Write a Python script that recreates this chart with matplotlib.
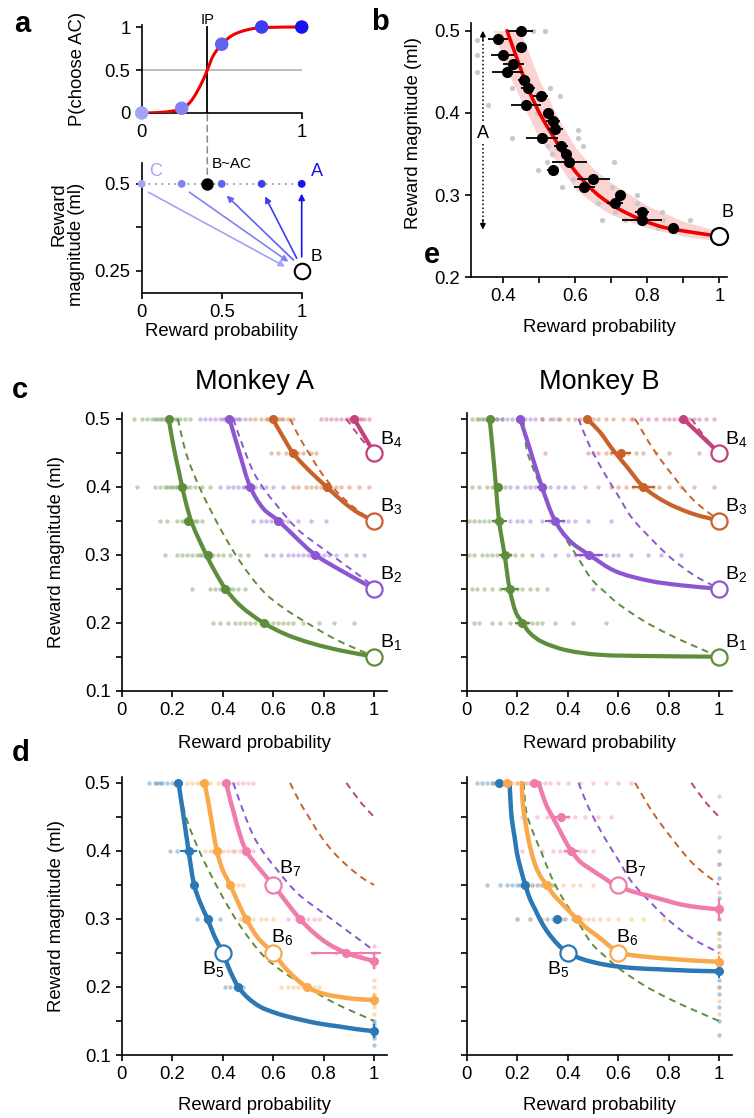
import math
import matplotlib
matplotlib.use('Agg')
import matplotlib.pyplot as plt
from matplotlib.patches import ConnectionPatch, PathPatch
from matplotlib.path import Path

plt.rcParams['font.family'] = ['Liberation Sans', 'DejaVu Sans']
plt.rcParams['mathtext.default'] = 'regular'
plt.rcParams['axes.linewidth'] = 1.2
for a in ('xtick', 'ytick'):
    plt.rcParams[a + '.major.width'] = 1.2
    plt.rcParams[a + '.major.size'] = 4.5
    plt.rcParams[a + '.labelsize'] = 13.3
    plt.rcParams[a + '.direction'] = 'out'

FS = 13.3

# ---------------- Panel a data ----------------
A_P = [0, 0.25, 0.5, 0.75, 1.0]
A_CHOICE = [0.0, 0.055, 0.8, 1.0, 1.0]
A_COLORS = ['#a3a3f7', '#8282f2', '#6262f0', '#3e3eee', '#1616ec']
SIG_P = [0, 0.1, 0.2, 0.25, 0.3, 0.344, 0.385, 0.41, 0.448, 0.5, 0.573, 0.677, 0.78, 1.0]
SIG_Y = [0, 0.005, 0.025, 0.05, 0.12, 0.24, 0.39, 0.5, 0.67, 0.8, 0.91, 0.975, 0.995, 1.0]
IP = 0.41
A_MAG = 0.5
B_REF = (1.0, 0.25)

# ---------------- Panel b data ----------------
BP = [0.448, 0.384, 0.448, 0.398, 0.428, 0.411, 0.456, 0.469, 0.504, 0.462, 0.525, 0.537, 0.544,
      0.508, 0.560, 0.574, 0.583, 0.537, 0.650, 0.625, 0.724, 0.710, 0.784, 0.784, 0.872]
BM = [0.50, 0.49, 0.48, 0.47, 0.46, 0.45, 0.44, 0.43, 0.42, 0.41, 0.40, 0.39, 0.38,
      0.37, 0.36, 0.35, 0.34, 0.33, 0.32, 0.31, 0.30, 0.29, 0.28, 0.27, 0.26]
BXERR = [0.035, 0.028, 0.014, 0.032, 0.028, 0.042, 0.016, 0.019, 0.021, 0.042, 0.014, 0.019, 0.021,
         0.044, 0.019, 0.014, 0.049, 0.016, 0.047, 0.03, 0.014, 0.023, 0.019, 0.056, 0.012]
GRAY_P = [0.326, 0.328, 0.328, 0.483, 0.516, 0.423, 0.469, 0.53, 0.557, 0.358, 0.423, 0.493, 0.525,
          0.608, 0.608, 0.622, 0.534, 0.497, 0.52, 0.562, 0.594, 0.706, 0.701, 0.664, 0.715, 0.77,
          0.71, 0.77, 0.84, 0.673, 0.83, 0.918, 0.844, 0.738]
GRAY_M = [0.489, 0.47, 0.45, 0.5, 0.5, 0.43, 0.44, 0.43, 0.42, 0.41, 0.37, 0.4, 0.36,
          0.379, 0.37, 0.36, 0.35, 0.33, 0.34, 0.31, 0.32, 0.34, 0.31, 0.29, 0.29, 0.30,
          0.28, 0.29, 0.28, 0.27, 0.26, 0.27, 0.27, 0.27]
FIT_P = [0.41, 0.446, 0.474, 0.506, 0.539, 0.576, 0.613, 0.669, 0.743, 0.835, 0.92, 1.0]
FIT_M = [0.5, 0.456, 0.424, 0.395, 0.371, 0.343, 0.322, 0.298, 0.278, 0.262, 0.255, 0.25]
BAND_P = [0.372, 0.41, 0.446, 0.5, 0.55, 0.6, 0.65, 0.7, 0.8, 0.9, 1.0]
BAND_LO = [0.5, 0.452, 0.418, 0.368, 0.34, 0.307, 0.29, 0.276, 0.26, 0.25, 0.244]
BAND_HI = [0.5, 0.5, 0.5, 0.44, 0.395, 0.358, 0.332, 0.315, 0.287, 0.268, 0.256]

# ---------------- Panels c / d data ----------------
GREEN = '#5e8d3b'
PURPLE = '#8b56cf'
BROWN = '#c9622a'
MAGENTA = '#c4427c'
BLUE = '#2b78b5'
LORANGE = '#f9a94b'
PINK = '#f07cac'

# Monkey A solid curves (panel c)
CA_GREEN_P = [0.186, 0.205, 0.228, 0.252, 0.28, 0.335, 0.37, 0.411, 0.47, 0.561, 0.65, 0.75, 0.87, 1.0]
CA_GREEN_M = [0.5, 0.46, 0.42, 0.38, 0.345, 0.3, 0.275, 0.25, 0.225, 0.2, 0.183, 0.17, 0.159, 0.15]
CA_PURPLE_P = [0.427, 0.469, 0.509, 0.561, 0.621, 0.694, 0.766, 0.878, 1.0]
CA_PURPLE_M = [0.5, 0.447, 0.4, 0.368, 0.35, 0.324, 0.3, 0.275, 0.25]
CA_BROWN_P = [0.598, 0.64, 0.68, 0.745, 0.812, 0.88, 0.94, 1.0]
CA_BROWN_M = [0.5, 0.473, 0.449, 0.423, 0.4, 0.377, 0.361, 0.35]
CA_MAG_P = [0.921, 1.0]
CA_MAG_M = [0.5, 0.45]
# Monkey B solid curves (panel c)
CB_GREEN_P = [0.091, 0.104, 0.116, 0.128, 0.15, 0.17, 0.195, 0.221, 0.25, 0.298, 0.39, 0.52, 0.72, 1.0]
CB_GREEN_M = [0.5, 0.45, 0.4, 0.35, 0.3, 0.25, 0.215, 0.2, 0.185, 0.172, 0.16, 0.153, 0.151, 0.15]
CB_PURPLE_P = [0.212, 0.245, 0.298, 0.35, 0.41, 0.485, 0.588, 0.72, 0.851, 1.0]
CB_PURPLE_M = [0.5, 0.462, 0.4, 0.35, 0.32, 0.3, 0.276, 0.262, 0.255, 0.25]
CB_BROWN_P = [0.476, 0.527, 0.574, 0.64, 0.70, 0.785, 0.89, 1.0]
CB_BROWN_M = [0.5, 0.481, 0.457, 0.427, 0.4, 0.378, 0.361, 0.35]
CB_MAG_P = [0.858, 1.0]
CB_MAG_M = [0.5, 0.45]

# Dashed reference curves
DA_GREEN_P = [0.222, 0.258, 0.311, 0.39, 0.469, 0.561, 0.64, 0.72, 0.84, 1.0]
DA_GREEN_M = [0.5, 0.446, 0.397, 0.339, 0.29, 0.246, 0.222, 0.203, 0.177, 0.15]
DA_PURPLE_P = [0.442, 0.48, 0.522, 0.565, 0.614, 0.66, 0.707, 0.76, 0.812, 0.885, 0.958, 1.0]
DA_PURPLE_M = [0.5, 0.46, 0.422, 0.396, 0.373, 0.352, 0.334, 0.319, 0.305, 0.285, 0.265, 0.253]
DA_BROWN_P = [0.667, 0.705, 0.746, 0.79, 0.839, 0.9, 0.958, 1.0]
DA_BROWN_M = [0.5, 0.472, 0.447, 0.421, 0.398, 0.376, 0.359, 0.35]
DA_MAG_P = [0.89, 0.95, 1.0]
DA_MAG_M = [0.5, 0.47, 0.45]
DB_GREEN_P = [0.225, 0.237, 0.26, 0.297, 0.335, 0.376, 0.435, 0.495, 0.548, 0.6, 0.7, 0.8, 0.9, 1.0]
DB_GREEN_M = [0.5, 0.456, 0.43, 0.397, 0.362, 0.333, 0.299, 0.264, 0.245, 0.228, 0.203, 0.183, 0.166, 0.15]
DB_PURPLE_P = [0.443, 0.48, 0.521, 0.56, 0.6, 0.653, 0.732, 0.81, 0.9, 1.0]
DB_PURPLE_M = [0.5, 0.466, 0.436, 0.411, 0.387, 0.355, 0.323, 0.295, 0.27, 0.25]
DB_BROWN_P = [0.667, 0.74, 0.82, 0.90, 1.0]
DB_BROWN_M = [0.5, 0.455, 0.415, 0.38, 0.35]
DB_MAG_P = [0.89, 0.95, 1.0]
DB_MAG_M = [0.5, 0.47, 0.45]

# Mean indifference points (panel c): p, m, xerr
MA_GREEN = ([0.186, 0.24, 0.262, 0.34, 0.411, 0.562], [0.5, 0.4, 0.35, 0.3, 0.25, 0.2], [0.008, 0.015, 0.01, 0.012, 0.012, 0.012])
MA_PURPLE = ([0.427, 0.509, 0.621, 0.766], [0.5, 0.4, 0.35, 0.3], [0.008, 0.02, 0.012, 0.012])
MA_BROWN = ([0.598, 0.68, 0.812], [0.5, 0.45, 0.4], [0.008, 0.01, 0.012])
MA_MAG = ([0.921], [0.5], [0.008])
MB_GREEN = ([0.091, 0.123, 0.129, 0.153, 0.17, 0.221], [0.5, 0.4, 0.35, 0.3, 0.25, 0.2], [0.008, 0.015, 0.03, 0.026, 0.036, 0.03])
MB_PURPLE = ([0.212, 0.298, 0.35, 0.485], [0.5, 0.4, 0.35, 0.3], [0.008, 0.02, 0.04, 0.056])
MB_BROWN = ([0.476, 0.611, 0.70], [0.5, 0.45, 0.4], [0.008, 0.04, 0.046])
MB_MAG = ([0.858], [0.5], [0.008])

# Single-session dots (panel c): level -> probabilities
DOTS_CA_GREEN = {0.5: [0.05, 0.08, 0.10, 0.12, 0.13, 0.14, 0.15, 0.16, 0.17, 0.18, 0.19, 0.2, 0.21, 0.22, 0.23, 0.25, 0.27],
                 0.4: [0.06, 0.13, 0.15, 0.17, 0.18, 0.19, 0.2, 0.21, 0.22, 0.23, 0.24, 0.25, 0.26, 0.27, 0.29, 0.32, 0.35],
                 0.35: [0.15, 0.18, 0.22, 0.24, 0.25, 0.26, 0.27, 0.28, 0.29, 0.3, 0.32],
                 0.3: [0.17, 0.22, 0.24, 0.26, 0.28, 0.3, 0.31, 0.32, 0.33, 0.34, 0.35, 0.36, 0.38, 0.4, 0.43, 0.47, 0.5],
                 0.25: [0.28, 0.35, 0.37, 0.39, 0.4, 0.41, 0.42, 0.43, 0.44, 0.46, 0.49],
                 0.2: [0.36, 0.39, 0.42, 0.45, 0.47, 0.49, 0.51, 0.53, 0.55, 0.56, 0.57, 0.58, 0.6, 0.62, 0.64, 0.66, 0.68, 0.72, 0.78, 0.84, 0.92]}
DOTS_CA_PURPLE = {0.5: [0.31, 0.33, 0.35, 0.37, 0.39, 0.40, 0.41, 0.42, 0.43, 0.44, 0.45, 0.46, 0.47, 0.49],
                  0.4: [0.39, 0.42, 0.44, 0.46, 0.48, 0.49, 0.5, 0.51, 0.52, 0.53, 0.55, 0.57, 0.6, 0.64],
                  0.35: [0.52, 0.55, 0.57, 0.59, 0.61, 0.62, 0.63, 0.64, 0.66, 0.7, 0.75, 0.81],
                  0.3: [0.57, 0.6, 0.63, 0.66, 0.68, 0.7, 0.72, 0.74, 0.75, 0.76, 0.77, 0.78, 0.8, 0.82, 0.85, 0.89, 0.93, 0.96]}
DOTS_CA_BROWN = {0.5: [0.51, 0.53, 0.55, 0.57, 0.58, 0.59, 0.6, 0.61, 0.62, 0.63, 0.64, 0.66, 0.68],
                 0.45: [0.59, 0.62, 0.65, 0.67, 0.68, 0.69, 0.7, 0.72, 0.75, 0.77],
                 0.4: [0.68, 0.7, 0.73, 0.75, 0.77, 0.79, 0.8, 0.81, 0.82, 0.83, 0.85, 0.87, 0.9, 0.94, 0.98]}
DOTS_CA_MAG = {0.5: [0.79, 0.81, 0.83, 0.85, 0.87, 0.89, 0.9, 0.91, 0.92, 0.93, 0.94, 0.95, 0.96, 0.98]}
DOTS_CB_GREEN = {0.5: [0.02, 0.04, 0.05, 0.06, 0.07, 0.08, 0.09, 0.1, 0.11, 0.12, 0.14],
                 0.4: [0.02, 0.05, 0.08, 0.1, 0.11, 0.12, 0.13, 0.15],
                 0.35: [0.01, 0.03, 0.05, 0.07, 0.09, 0.11, 0.12, 0.13, 0.14],
                 0.3: [0.01, 0.03, 0.06, 0.08, 0.1, 0.12, 0.14, 0.15, 0.16, 0.17, 0.19, 0.22, 0.26],
                 0.25: [0.02, 0.04, 0.07, 0.1, 0.13, 0.15, 0.16, 0.17, 0.18, 0.2, 0.22, 0.25, 0.28, 0.32],
                 0.2: [0.03, 0.05, 0.1, 0.13, 0.17, 0.2, 0.21, 0.22, 0.24, 0.26, 0.28, 0.3, 0.35, 0.42, 0.55]}
DOTS_CB_PURPLE = {0.5: [0.12, 0.14, 0.16, 0.18, 0.2, 0.21, 0.22, 0.23, 0.25, 0.27, 0.3, 0.33, 0.36],
                  0.4: [0.17, 0.2, 0.23, 0.25, 0.27, 0.29, 0.3, 0.31, 0.33, 0.36, 0.39, 0.42],
                  0.35: [0.14, 0.17, 0.2, 0.22, 0.25, 0.3, 0.33, 0.35, 0.36, 0.38, 0.4, 0.43, 0.48, 0.57],
                  0.3: [0.3, 0.35, 0.4, 0.43, 0.45, 0.47, 0.49, 0.5, 0.52, 0.55, 0.58, 0.6, 0.65, 0.72, 0.77, 0.85],
                  0.25: [0.5]}
DOTS_CB_BROWN = {0.5: [0.3, 0.34, 0.37, 0.4, 0.43, 0.45, 0.47, 0.48, 0.5, 0.52, 0.55, 0.58, 0.62, 0.65],
                 0.45: [0.31, 0.48, 0.5, 0.52, 0.55, 0.57, 0.6, 0.62, 0.64, 0.67, 0.7, 0.75, 0.8, 0.92],
                 0.4: [0.47, 0.52, 0.57, 0.6, 0.63, 0.66, 0.68, 0.7, 0.72, 0.74, 0.76, 0.8, 0.85, 0.9, 0.98]}
DOTS_CB_MAG = {0.5: [0.66, 0.69, 0.72, 0.75, 0.78, 0.8, 0.82, 0.84, 0.86, 0.87, 0.88, 0.9, 0.92, 0.95, 0.98]}

# Panel d solid curves
DA_BLUE_P = [0.225, 0.245, 0.265, 0.287, 0.312, 0.34, 0.368, 0.4, 0.43, 0.462, 0.50, 0.548, 0.60, 0.653, 0.72, 0.785, 0.86, 0.93, 1.0]
DA_BLUE_M = [0.5, 0.451, 0.4, 0.35, 0.323, 0.3, 0.274, 0.25, 0.223, 0.2, 0.184, 0.171, 0.163, 0.157, 0.151, 0.146, 0.142, 0.138, 0.135]
DA_LOR_P = [0.328, 0.336, 0.344, 0.36, 0.377, 0.40, 0.43, 0.46, 0.493, 0.54, 0.6, 0.66, 0.733, 0.80, 0.87, 0.94, 1.0]
DA_LOR_M = [0.5, 0.485, 0.47, 0.435, 0.4, 0.372, 0.35, 0.325, 0.3, 0.272, 0.25, 0.223, 0.2, 0.19, 0.185, 0.182, 0.181]
DA_PINK_P = [0.414, 0.43, 0.445, 0.465, 0.493, 0.545, 0.6, 0.65, 0.706, 0.76, 0.82, 0.89, 0.95, 1.0]
DA_PINK_M = [0.5, 0.475, 0.455, 0.428, 0.4, 0.374, 0.35, 0.326, 0.3, 0.28, 0.263, 0.25, 0.243, 0.238]
DB_BLUE_P = [0.17, 0.174, 0.179, 0.19, 0.199, 0.215, 0.232, 0.25, 0.271, 0.295, 0.324, 0.36, 0.4, 0.45, 0.495, 0.56, 0.653, 0.76, 0.88, 1.0]
DB_BLUE_M = [0.5, 0.47, 0.446, 0.42, 0.397, 0.372, 0.35, 0.33, 0.314, 0.296, 0.279, 0.263, 0.25, 0.242, 0.237, 0.232, 0.228, 0.226, 0.224, 0.223]
DB_LOR_P = [0.218, 0.222, 0.231, 0.243, 0.257, 0.275, 0.295, 0.317, 0.345, 0.376, 0.41, 0.442, 0.48, 0.521, 0.56, 0.6, 0.65, 0.72, 0.785, 0.89, 1.0]
DB_LOR_M = [0.5, 0.47, 0.446, 0.42, 0.397, 0.376, 0.361, 0.35, 0.335, 0.323, 0.31, 0.298, 0.285, 0.274, 0.262, 0.251, 0.247, 0.244, 0.242, 0.239, 0.237]
DB_PINK_P = [0.285, 0.30, 0.317, 0.34, 0.363, 0.39, 0.416, 0.45, 0.495, 0.545, 0.587, 0.66, 0.732, 0.79, 0.851, 0.92, 1.0]
DB_PINK_M = [0.5, 0.483, 0.466, 0.45, 0.434, 0.415, 0.399, 0.384, 0.372, 0.36, 0.35, 0.34, 0.333, 0.327, 0.321, 0.317, 0.314]

# Panel d means: p, m, xerr, yerr
NA_BLUE = ([0.225, 0.265, 0.287, 0.34, 0.462, 1.0], [0.5, 0.4, 0.35, 0.3, 0.2, 0.135], [0.005, 0.033, 0.008, 0.01, 0.012, 0], [0, 0, 0, 0, 0, 0.01])
NA_LOR = ([0.328, 0.377, 0.43, 0.493, 0.733, 1.0], [0.5, 0.4, 0.35, 0.3, 0.2, 0.181], [0.005, 0.012, 0.008, 0.012, 0.015, 0], [0, 0, 0, 0, 0, 0.008])
NA_PINK = ([0.414, 0.493, 0.706, 0.89, 1.0], [0.5, 0.4, 0.3, 0.25, 0.238], [0.005, 0.01, 0.012, 0.138, 0], [0, 0, 0, 0, 0.012])
NB_BLUE = ([0.126, 0.232, 0.358, 1.0], [0.5, 0.35, 0.3, 0.223], [0.005, 0.01, 0.01, 0], [0, 0, 0, 0.01])
NB_LOR = ([0.159, 0.318, 0.436, 1.0], [0.5, 0.35, 0.3, 0.237], [0.005, 0.012, 0.01, 0], [0, 0, 0, 0.008])
NB_PINK = ([0.265, 0.374, 0.414, 1.0], [0.5, 0.45, 0.4, 0.314], [0.005, 0.035, 0.03, 0], [0, 0, 0, 0.015])

# Panel d dots
DOTS_DA_BLUE = {0.5: [0.11, 0.13, 0.14, 0.15, 0.16, 0.18, 0.2, 0.21, 0.22, 0.23],
                0.4: [0.19, 0.22, 0.25, 0.27, 0.28],
                0.3: [0.3, 0.33, 0.34, 0.35, 0.39],
                0.2: [0.41, 0.43, 0.45, 0.46, 0.48]}
DOTS_DA_LOR = {0.5: [0.26, 0.28, 0.3, 0.31, 0.32, 0.33, 0.35, 0.38, 0.4, 0.42],
               0.4: [0.33, 0.35, 0.36, 0.37, 0.38, 0.4, 0.42, 0.45],
               0.35: [0.42, 0.43, 0.44, 0.46, 0.48],
               0.3: [0.47, 0.5, 0.52, 0.55, 0.57, 0.6],
               0.2: [0.63, 0.66, 0.68, 0.7, 0.72, 0.74, 0.76, 0.78]}
DOTS_DA_PINK = {0.5: [0.4, 0.42, 0.44, 0.46, 0.48, 0.5, 0.52],
                0.4: [0.44, 0.47, 0.49, 0.5, 0.52],
                0.3: [0.66, 0.69, 0.7, 0.72, 0.74, 0.76, 0.78],
                0.25: [0.76, 0.85, 0.9, 0.95]}
VDOTS_DA_BLUE = [0.115, 0.125, 0.13, 0.14, 0.145, 0.15]
VDOTS_DA_LOR = [0.16, 0.17, 0.175, 0.19, 0.2, 0.21]
VDOTS_DA_PINK = [0.23, 0.24, 0.25, 0.26]
DOTS_DB_BLUE = {0.5: [0.04, 0.06, 0.08, 0.1, 0.11, 0.12, 0.13, 0.14, 0.15, 0.17],
                0.35: [0.08, 0.13, 0.16, 0.18, 0.2, 0.21, 0.22, 0.23, 0.24, 0.26, 0.28, 0.3, 0.34],
                0.3: [0.2, 0.25, 0.29, 0.32, 0.34, 0.35, 0.36, 0.37, 0.39, 0.42]}
DOTS_DB_LOR = {0.5: [0.1, 0.13, 0.15, 0.16, 0.17, 0.18, 0.2, 0.22, 0.24, 0.26],
               0.35: [0.26, 0.29, 0.31, 0.32, 0.33, 0.35, 0.38, 0.42, 0.45, 0.5],
               0.3: [0.2, 0.25, 0.3, 0.38, 0.42, 0.44, 0.46, 0.48, 0.5, 0.53, 0.56, 0.6, 0.65, 0.7, 0.78]}
DOTS_DB_PINK = {0.5: [0.2, 0.23, 0.25, 0.27, 0.29, 0.31, 0.33, 0.36, 0.4, 0.45, 0.5, 0.55, 0.6, 0.65],
                0.45: [0.22, 0.28, 0.32, 0.35, 0.37, 0.38, 0.4, 0.43, 0.47, 0.52, 0.57],
                0.4: [0.22, 0.3, 0.34, 0.37, 0.39, 0.41, 0.43, 0.45, 0.47, 0.5]}
VDOTS_DB_BLUE = [0.13, 0.15, 0.17, 0.19, 0.2, 0.21, 0.22, 0.23, 0.24, 0.26, 0.28, 0.3, 0.33, 0.36, 0.38, 0.4]
VDOTS_DB_LOR = [0.16, 0.18, 0.2, 0.22, 0.24, 0.25, 0.26, 0.27, 0.28]
VDOTS_DB_PINK = [0.3, 0.32, 0.34, 0.38, 0.42, 0.48]

C_REF_M = [0.15, 0.25, 0.35, 0.45]          # B1..B4 at p = 1
D_REF = [(0.4, 0.25), (0.6, 0.25), (0.6, 0.35)]  # B5..B7
D_LABEL_POS = [(0.361, 0.226), (0.634, 0.274), (0.667, 0.375)]

XT_CD = [0, 0.2, 0.4, 0.6, 0.8, 1.0]
XT_CD_LAB = ['0', '0.2', '0.4', '0.6', '0.8', '1']
YT_CD = [0.1, 0.15, 0.2, 0.25, 0.3, 0.35, 0.4, 0.45, 0.5]
YT_CD_LAB = ['0.1', '', '0.2', '', '0.3', '', '0.4', '', '0.5']

W, H = 754, 1118
fig = plt.figure(figsize=(W / 100, H / 100), dpi=100)


def px_axes(left, top, right, bottom):
    return fig.add_axes([left / W, 1 - bottom / H, (right - left) / W, (bottom - top) / H])


def ftext(x, y, s, **kw):
    """Text placed at figure pixel position (from top-left)."""
    return fig.text(x / W, 1 - y / H, s, **kw)


def clean(ax):
    ax.spines['top'].set_visible(False)
    ax.spines['right'].set_visible(False)


def smooth_curve(ax, xs, ys, k, **kw):
    """Draw a smooth cubic path passing through the given points (k: y/x aspect)."""
    pts = [(x, y * k) for x, y in zip(xs, ys)]
    n = len(pts)
    verts = [pts[0]]
    codes = [Path.MOVETO]
    if n == 2:
        verts.append(pts[1])
        codes.append(Path.LINETO)
    else:
        for i in range(n - 1):
            p0 = pts[max(i - 1, 0)]
            p1 = pts[i]
            p2 = pts[i + 1]
            p3 = pts[min(i + 2, n - 1)]
            d = math.hypot(p2[0] - p1[0], p2[1] - p1[1])
            t1 = (p2[0] - p0[0], p2[1] - p0[1])
            t2 = (p3[0] - p1[0], p3[1] - p1[1])
            n1 = math.hypot(*t1) or 1
            n2 = math.hypot(*t2) or 1
            c1 = (p1[0] + t1[0] / n1 * d / 3, p1[1] + t1[1] / n1 * d / 3)
            c2 = (p2[0] - t2[0] / n2 * d / 3, p2[1] - t2[1] / n2 * d / 3)
            verts += [c1, c2, p2]
            codes += [Path.CURVE4] * 3
    verts = [(x, y / k) for x, y in verts]
    patch = PathPatch(Path(verts, codes), fill=False, **kw)
    ax.add_patch(patch)
    return patch


# ================= Panel a (top) =================
ax = px_axes(141.7, 25.3, 301.7, 113)
clean(ax)
ax.set_xlim(0, 1)
ax.set_ylim(0, 1.02)
ax.plot([0, 1], [0.5, 0.5], color='#b4b4b4', lw=1.2, zorder=1)
ax.plot([IP, IP], [0, 1], color='k', lw=1.3, zorder=2)
smooth_curve(ax, SIG_P, SIG_Y, 0.54, edgecolor='#ee0000', lw=2.2, zorder=3, capstyle='round')
ax.scatter(A_P, A_CHOICE, s=95, c=A_COLORS, zorder=5, clip_on=False, lw=0)
ax.text(IP, 1.085, 'IP', ha='center', va='center', fontsize=10.5)
ax.set_xticks([0, 1])
ax.set_xticklabels(['0', '1'])
ax.set_yticks([0, 0.5, 1])
ax.set_yticklabels(['0', '0.5', '1'])
ftext(77, 69, 'P(choose AC)', rotation=90, ha='center', va='center', fontsize=FS)
ax_a_top = ax

# ================= Panel a (bottom) =================
ax = px_axes(141.7, 163, 301.7, 293)
clean(ax)
ax.set_xlim(0, 1)
ax.set_ylim(0.186, 0.56)
ax.plot([0, 1], [A_MAG, A_MAG], ls=(0, (1, 2.6)), color='#9a9a9a', lw=1.3, zorder=1)
ax.scatter(A_P, [A_MAG] * len(A_P), s=32, c=A_COLORS, zorder=5, clip_on=False, lw=0)
ax.scatter([IP], [A_MAG], s=80, c='k', zorder=6, lw=0)
ax.scatter([B_REF[0]], [B_REF[1]], s=125, facecolor='white', edgecolor='k', lw=1.5, zorder=6, clip_on=False)
arrow_specs = [((0.042, 0.476), (0.896, 0.262), A_COLORS[0]),
               ((0.298, 0.476), (0.917, 0.276), A_COLORS[1]),
               ((0.948, 0.281), (0.531, 0.466), A_COLORS[2]),
               ((0.969, 0.286), (0.771, 0.464), A_COLORS[3]),
               ((1.0, 0.29), (1.0, 0.472), A_COLORS[4])]
for start, end, col in arrow_specs:
    ax.annotate('', xy=end, xytext=start,
                arrowprops=dict(arrowstyle='-|>', color=col, lw=1.2, mutation_scale=9,
                                shrinkA=0, shrinkB=0), annotation_clip=False)
ax.text(0.045, 0.535, 'C', color=A_COLORS[0], fontsize=13, ha='left', va='center')
ax.text(1.06, 0.535, 'A', color=A_COLORS[4], fontsize=13, ha='left', va='center')
ax.text(1.055, 0.29, 'B', color='k', fontsize=12.5, ha='left', va='center')
ax.text(0.435, 0.558, 'B~AC', color='k', fontsize=11, ha='left', va='center')
ax.set_xticks([0, 0.5, 1])
ax.set_xticklabels(['0', '0.5', '1'])
ax.set_yticks([0.25, 0.375, 0.5])
ax.set_yticklabels(['0.25', '', '0.5'])
ftext(67.5, 244, 'Reward\nmagnitude (ml)', rotation=90, ha='center', va='center',
      fontsize=FS, multialignment='right', linespacing=1.05)
ftext(221.7, 331, 'Reward probability', ha='center', va='center', fontsize=FS)
con = ConnectionPatch(xyA=(IP, -0.02), coordsA=ax_a_top.transData,
                      xyB=(IP, 0.515), coordsB=ax.transData,
                      color='#8a8a8a', lw=1.1, linestyle=(0, (4, 3)))
fig.add_artist(con)

# ================= Panel b =================
ax = px_axes(471, 23.3, 726.7, 277.3)
clean(ax)
ax.set_xlim(0.31, 1.02)
ax.set_ylim(0.2, 0.509)
ax.fill_between(BAND_P, BAND_LO, BAND_HI, color='#fbd3d3', lw=0, zorder=1)
ax.scatter(GRAY_P, GRAY_M, s=14, color='#c9c9c9', lw=0, zorder=2)
smooth_curve(ax, FIT_P, FIT_M, 2.28, edgecolor='#ee0000', lw=2.6, zorder=3, capstyle='round')
ax.errorbar(BP, BM, xerr=BXERR, fmt='o', color='k', ms=7, elinewidth=1.3, capsize=0, zorder=4)
ax.scatter([B_REF[0]], [B_REF[1]], s=150, facecolor='white', edgecolor='k', lw=1.6, zorder=6, clip_on=False)
ax.text(1.005, 0.279, 'B', fontsize=13, ha='left', va='center')
xa = 0.343
ax.plot([xa, xa], [0.493, 0.388], ls=(0, (1, 1.6)), color='k', lw=1.1)
ax.plot([xa, xa], [0.362, 0.266], ls=(0, (1, 1.6)), color='k', lw=1.1)
ax.annotate('', xy=(xa, 0.5), xytext=(xa, 0.488),
            arrowprops=dict(arrowstyle='-|>', color='k', lw=1, mutation_scale=8, shrinkA=0, shrinkB=0))
ax.annotate('', xy=(xa, 0.258), xytext=(xa, 0.27),
            arrowprops=dict(arrowstyle='-|>', color='k', lw=1, mutation_scale=8, shrinkA=0, shrinkB=0))
ax.text(xa, 0.375, 'A', fontsize=13, ha='center', va='center')
ax.set_xticks([0.4, 0.5, 0.6, 0.7, 0.8, 0.9, 1.0])
ax.set_xticklabels(['0.4', '', '0.6', '', '0.8', '', '1'])
ax.set_yticks([0.2, 0.3, 0.4, 0.5])
ax.set_yticklabels(['0.2', '0.3', '0.4', '0.5'])
ftext(413, 133, 'Reward magnitude (ml)', rotation=90, ha='center', va='center', fontsize=FS)
ftext(599, 328, 'Reward probability', ha='center', va='center', fontsize=FS)


# ================= Panels c / d =================
def style_cd(ax, left_labels, xlab_y):
    clean(ax)
    ax.set_xlim(0, 1.05)
    ax.set_ylim(0.1, 0.509)
    ax.set_xticks(XT_CD)
    ax.set_xticklabels(XT_CD_LAB)
    ax.set_yticks(YT_CD)
    if left_labels:
        ax.set_yticklabels(YT_CD_LAB)
    else:
        ax.set_yticklabels([])
    bb = ax.get_position()
    xc = (bb.x0 + bb.x1) / 2 * W
    ftext(xc, xlab_y, 'Reward probability', ha='center', va='center', fontsize=FS)


def draw_dots(ax, dots, color):
    for lvl, ps in dots.items():
        ax.scatter(ps, [lvl] * len(ps), s=10, color=color, alpha=0.38, lw=0, zorder=1)


def draw_vdots(ax, ms, color):
    ax.scatter([1.0] * len(ms), ms, s=10, color=color, alpha=0.4, lw=0, zorder=1, clip_on=False)


K_CD = 2.69


def draw_dashed(ax, curves):
    for p, m, c in curves:
        smooth_curve(ax, p, m, K_CD, edgecolor=c, lw=1.4, linestyle=(0, (3.5, 2.6)), zorder=2)


def draw_solid(ax, curves, lw):
    for p, m, c in curves:
        smooth_curve(ax, p, m, K_CD, edgecolor=c, lw=lw, zorder=3, capstyle='round', joinstyle='round')


def draw_means(ax, means, color, yerr=False):
    if yerr:
        p, m, xe, ye = means
        ax.errorbar(p, m, xerr=xe, yerr=ye, fmt='o', color=color, ms=5.5, elinewidth=1.5,
                    capsize=0, zorder=4, clip_on=False)
    else:
        p, m, xe = means
        ax.errorbar(p, m, xerr=xe, fmt='o', color=color, ms=5.5, elinewidth=1.5,
                    capsize=0, zorder=4, clip_on=False)


def open_circle(ax, p, m, color):
    ax.scatter([p], [m], s=135, facecolor='white', edgecolor=color, lw=1.6, zorder=6, clip_on=False)


C_COLORS = [GREEN, PURPLE, BROWN, MAGENTA]
DASH_A = [(DA_GREEN_P, DA_GREEN_M, GREEN), (DA_PURPLE_P, DA_PURPLE_M, PURPLE),
          (DA_BROWN_P, DA_BROWN_M, BROWN), (DA_MAG_P, DA_MAG_M, MAGENTA)]
DASH_B = [(DB_GREEN_P, DB_GREEN_M, GREEN), (DB_PURPLE_P, DB_PURPLE_M, PURPLE),
          (DB_BROWN_P, DB_BROWN_M, BROWN), (DB_MAG_P, DB_MAG_M, MAGENTA)]

# ---- c left (Monkey A) ----
ax = px_axes(121.7, 412.7, 386.7, 690.7)
style_cd(ax, True, 744)
ftext(57, 551.7, 'Reward magnitude (ml)', rotation=90, ha='center', va='center', fontsize=FS)
for d, c in zip([DOTS_CA_GREEN, DOTS_CA_PURPLE, DOTS_CA_BROWN, DOTS_CA_MAG], C_COLORS):
    draw_dots(ax, d, c)
draw_dashed(ax, DASH_A)
draw_solid(ax, [(CA_GREEN_P, CA_GREEN_M, GREEN), (CA_PURPLE_P, CA_PURPLE_M, PURPLE),
                (CA_BROWN_P, CA_BROWN_M, BROWN), (CA_MAG_P, CA_MAG_M, MAGENTA)], 3.0)
for mn, c in zip([MA_GREEN, MA_PURPLE, MA_BROWN, MA_MAG], C_COLORS):
    draw_means(ax, mn, c)
for i, (mb, c) in enumerate(zip(C_REF_M, C_COLORS)):
    open_circle(ax, 1.0, mb, c)
    ax.text(1.022, mb + 0.021, 'B$_{%d}$' % (i + 1), fontsize=14, ha='left', va='center')
ftext(254.2, 382, 'Monkey A', ha='center', va='center', fontsize=19.5)

# ---- c right (Monkey B) ----
ax = px_axes(466.7, 412.7, 731.7, 690.7)
style_cd(ax, False, 744)
for d, c in zip([DOTS_CB_GREEN, DOTS_CB_PURPLE, DOTS_CB_BROWN, DOTS_CB_MAG], C_COLORS):
    draw_dots(ax, d, c)
draw_dashed(ax, DASH_B)
draw_solid(ax, [(CB_GREEN_P, CB_GREEN_M, GREEN), (CB_PURPLE_P, CB_PURPLE_M, PURPLE),
                (CB_BROWN_P, CB_BROWN_M, BROWN), (CB_MAG_P, CB_MAG_M, MAGENTA)], 3.0)
for mn, c in zip([MB_GREEN, MB_PURPLE, MB_BROWN, MB_MAG], C_COLORS):
    draw_means(ax, mn, c)
for i, (mb, c) in enumerate(zip(C_REF_M, C_COLORS)):
    open_circle(ax, 1.0, mb, c)
    ax.text(1.022, mb + 0.021, 'B$_{%d}$' % (i + 1), fontsize=14, ha='left', va='center')
ftext(599.2, 382, 'Monkey B', ha='center', va='center', fontsize=19.5)

D_COLORS = [BLUE, LORANGE, PINK]

# ---- d left (Monkey A) ----
ax = px_axes(121.7, 776.7, 386.7, 1055)
style_cd(ax, True, 1106)
ftext(57, 916, 'Reward magnitude (ml)', rotation=90, ha='center', va='center', fontsize=FS)
for d, c in zip([DOTS_DA_BLUE, DOTS_DA_LOR, DOTS_DA_PINK], D_COLORS):
    draw_dots(ax, d, c)
for v, c in zip([VDOTS_DA_BLUE, VDOTS_DA_LOR, VDOTS_DA_PINK], D_COLORS):
    draw_vdots(ax, v, c)
draw_dashed(ax, DASH_A)
draw_solid(ax, [(DA_BLUE_P, DA_BLUE_M, BLUE), (DA_LOR_P, DA_LOR_M, LORANGE), (DA_PINK_P, DA_PINK_M, PINK)], 3.2)
for mn, c in zip([NA_BLUE, NA_LOR, NA_PINK], D_COLORS):
    draw_means(ax, mn, c, yerr=True)
for i, ((bp, bm), (lx, ly), c) in enumerate(zip(D_REF, D_LABEL_POS, D_COLORS)):
    open_circle(ax, bp, bm, c)
    ax.text(lx, ly, 'B$_{%d}$' % (i + 5), fontsize=14, ha='center', va='center')

# ---- d right (Monkey B) ----
ax = px_axes(466.7, 776.7, 731.7, 1055)
style_cd(ax, False, 1106)
for d, c in zip([DOTS_DB_BLUE, DOTS_DB_LOR, DOTS_DB_PINK], D_COLORS):
    draw_dots(ax, d, c)
for v, c in zip([VDOTS_DB_BLUE, VDOTS_DB_LOR, VDOTS_DB_PINK], D_COLORS):
    draw_vdots(ax, v, c)
draw_dashed(ax, DASH_B)
draw_solid(ax, [(DB_BLUE_P, DB_BLUE_M, BLUE), (DB_LOR_P, DB_LOR_M, LORANGE), (DB_PINK_P, DB_PINK_M, PINK)], 3.2)
for mn, c in zip([NB_BLUE, NB_LOR, NB_PINK], D_COLORS):
    draw_means(ax, mn, c, yerr=True)
for i, ((bp, bm), (lx, ly), c) in enumerate(zip(D_REF, D_LABEL_POS, D_COLORS)):
    open_circle(ax, bp, bm, c)
    ax.text(lx, ly, 'B$_{%d}$' % (i + 5), fontsize=14, ha='center', va='center')

# ================= Panel letters =================
for txt, x, y in [('a', 22, 24), ('b', 380, 22), ('c', 20, 390), ('d', 21, 753), ('e', 432, 255)]:
    ftext(x, y, txt, fontsize=21, fontweight='bold', ha='center', va='center')

fig.savefig('out.png', dpi=100)
